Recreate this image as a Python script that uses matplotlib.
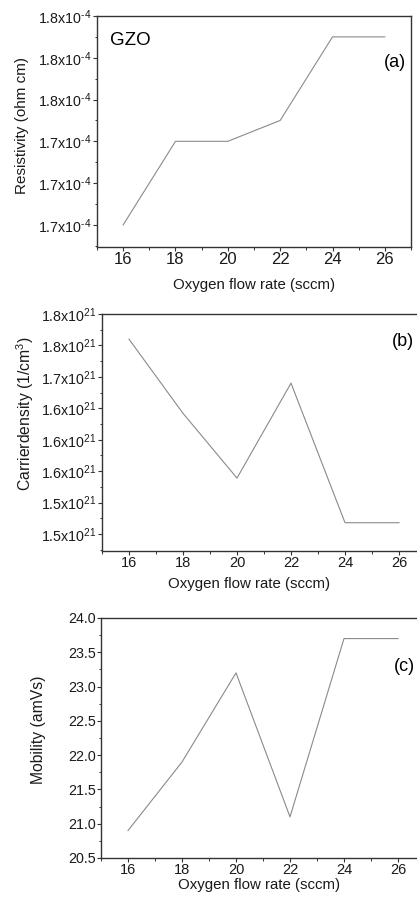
import matplotlib
matplotlib.use("Agg")
import matplotlib.pyplot as plt
from matplotlib.ticker import FixedLocator, FixedFormatter, MultipleLocator

plt.rcParams['font.family'] = ['Liberation Sans', 'DejaVu Sans']
plt.rcParams['mathtext.fontset'] = 'custom'
plt.rcParams['mathtext.rm'] = 'Liberation Sans'
plt.rcParams['mathtext.default'] = 'regular'

# data
oxygen_flow = [16, 18, 20, 22, 24, 26]
resistivity = [1.69, 1.73, 1.73, 1.74, 1.78, 1.78]          # x1e-4 ohm cm
carrier_density = [1.760, 1.642, 1.539, 1.690, 1.468, 1.468]  # x1e21 1/cm3
mobility = [20.9, 21.9, 23.2, 21.1, 23.7, 23.7]

res_ticks = [1.69, 1.71, 1.73, 1.75, 1.77, 1.79]
res_labels = [r"1.7x10$^{\text{-}4}$", r"1.7x10$^{\text{-}4}$", r"1.7x10$^{\text{-}4}$",
              r"1.8x10$^{\text{-}4}$", r"1.8x10$^{\text{-}4}$", r"1.8x10$^{\text{-}4}$"]
cd_ticks = [1.45, 1.50, 1.55, 1.60, 1.65, 1.70, 1.75, 1.80]
cd_labels = [r"1.5x10$^{21}$", r"1.5x10$^{21}$", r"1.6x10$^{21}$", r"1.6x10$^{21}$",
             r"1.6x10$^{21}$", r"1.7x10$^{21}$", r"1.8x10$^{21}$", r"1.8x10$^{21}$"]
mob_ticks = [20.5, 21.0, 21.5, 22.0, 22.5, 23.0, 23.5, 24.0]
mob_labels = ["%.1f" % t for t in mob_ticks]

W, H = 417, 901
fig = plt.figure(figsize=(W / 100, H / 100), dpi=100)


def px_axes(left, right, top, bottom):
    return fig.add_axes([left / W, 1 - bottom / H, (right - left) / W, (bottom - top) / H])


line_kw = dict(color='#8a8a8a', linewidth=0.8)
spine_col = '#333333'


def style(ax, xtick_size):
    for s in ax.spines.values():
        s.set_color(spine_col)
        s.set_linewidth(1.0)
    ax.set_xlim(15, 27)
    ax.xaxis.set_major_locator(MultipleLocator(2))
    ax.xaxis.set_minor_locator(MultipleLocator(1))
    ax.tick_params(which='both', direction='out', colors=spine_col, top=False, right=False,
                   labelcolor='#1a1a1a')
    ax.tick_params(which='major', length=2.8, width=0.8)
    ax.tick_params(which='minor', length=1.8, width=0.7)
    ax.tick_params(axis='y', labelsize=10.3, pad=1)
    ax.tick_params(axis='x', labelsize=xtick_size, pad=0.8)
    ax.xaxis.label.set_va('center')
    ax.yaxis.label.set_va('center')


# (a) resistivity
ax1 = px_axes(97, 411, 16, 247)
ax1.plot(oxygen_flow, resistivity, **line_kw)
ax1.set_ylim(1.6794, 1.79)
ax1.yaxis.set_major_locator(FixedLocator(res_ticks))
ax1.yaxis.set_major_formatter(FixedFormatter(res_labels))
ax1.yaxis.set_minor_locator(MultipleLocator(0.01))
style(ax1, 12)
ax1.set_xlabel("Oxygen flow rate (sccm)", fontsize=10.8, color='#1a1a1a')
ax1.set_ylabel("Resistivity (ohm cm)", fontsize=11, color='#1a1a1a')
ax1.xaxis.set_label_coords(0.5, -0.164)
ax1.yaxis.set_label_coords(-0.24, 0.528)
ax1.text(0.041, 0.896, "GZO", transform=ax1.transAxes, fontsize=13.5, va='center', ha='left')
ax1.text(0.984, 0.80, "(a)", transform=ax1.transAxes, fontsize=13, va='center', ha='right')

# (b) carrier density
ax2 = px_axes(102, 426, 314, 551)
ax2.plot(oxygen_flow, carrier_density, **line_kw)
ax2.set_ylim(1.423, 1.80)
ax2.yaxis.set_major_locator(FixedLocator(cd_ticks))
ax2.yaxis.set_major_formatter(FixedFormatter(cd_labels))
ax2.yaxis.set_minor_locator(MultipleLocator(0.025))
style(ax2, 10.5)
ax2.set_xlabel("Oxygen flow rate (sccm)", fontsize=10.8, color='#1a1a1a')
ax2.set_ylabel("Carrierdensity (1/cm$^{3}$)", fontsize=11.3, color='#1a1a1a')
ax2.xaxis.set_label_coords(0.454, -0.138)
ax2.yaxis.set_label_coords(-0.238, 0.578)
ax2.text(0.963, 0.882, "(b)", transform=ax2.transAxes, fontsize=13, va='center', ha='right')

# (c) mobility
ax3 = px_axes(101, 425, 618, 858)
ax3.plot(oxygen_flow, mobility, **line_kw)
ax3.set_ylim(20.5, 24.0)
ax3.yaxis.set_major_locator(FixedLocator(mob_ticks))
ax3.yaxis.set_major_formatter(FixedFormatter(mob_labels))
ax3.yaxis.set_minor_locator(MultipleLocator(0.25))
style(ax3, 10.5)
ax3.set_xlabel("Oxygen flow rate (sccm)", fontsize=10.8, color='#1a1a1a')
ax3.set_ylabel("Mobility (amVs)", fontsize=11.3, color='#1a1a1a')
ax3.xaxis.set_label_coords(0.488, -0.112)
ax3.yaxis.set_label_coords(-0.194, 0.533)
ax3.text(0.969, 0.796, "(c)", transform=ax3.transAxes, fontsize=13, va='center', ha='right')

fig.savefig("out.png", dpi=100)
